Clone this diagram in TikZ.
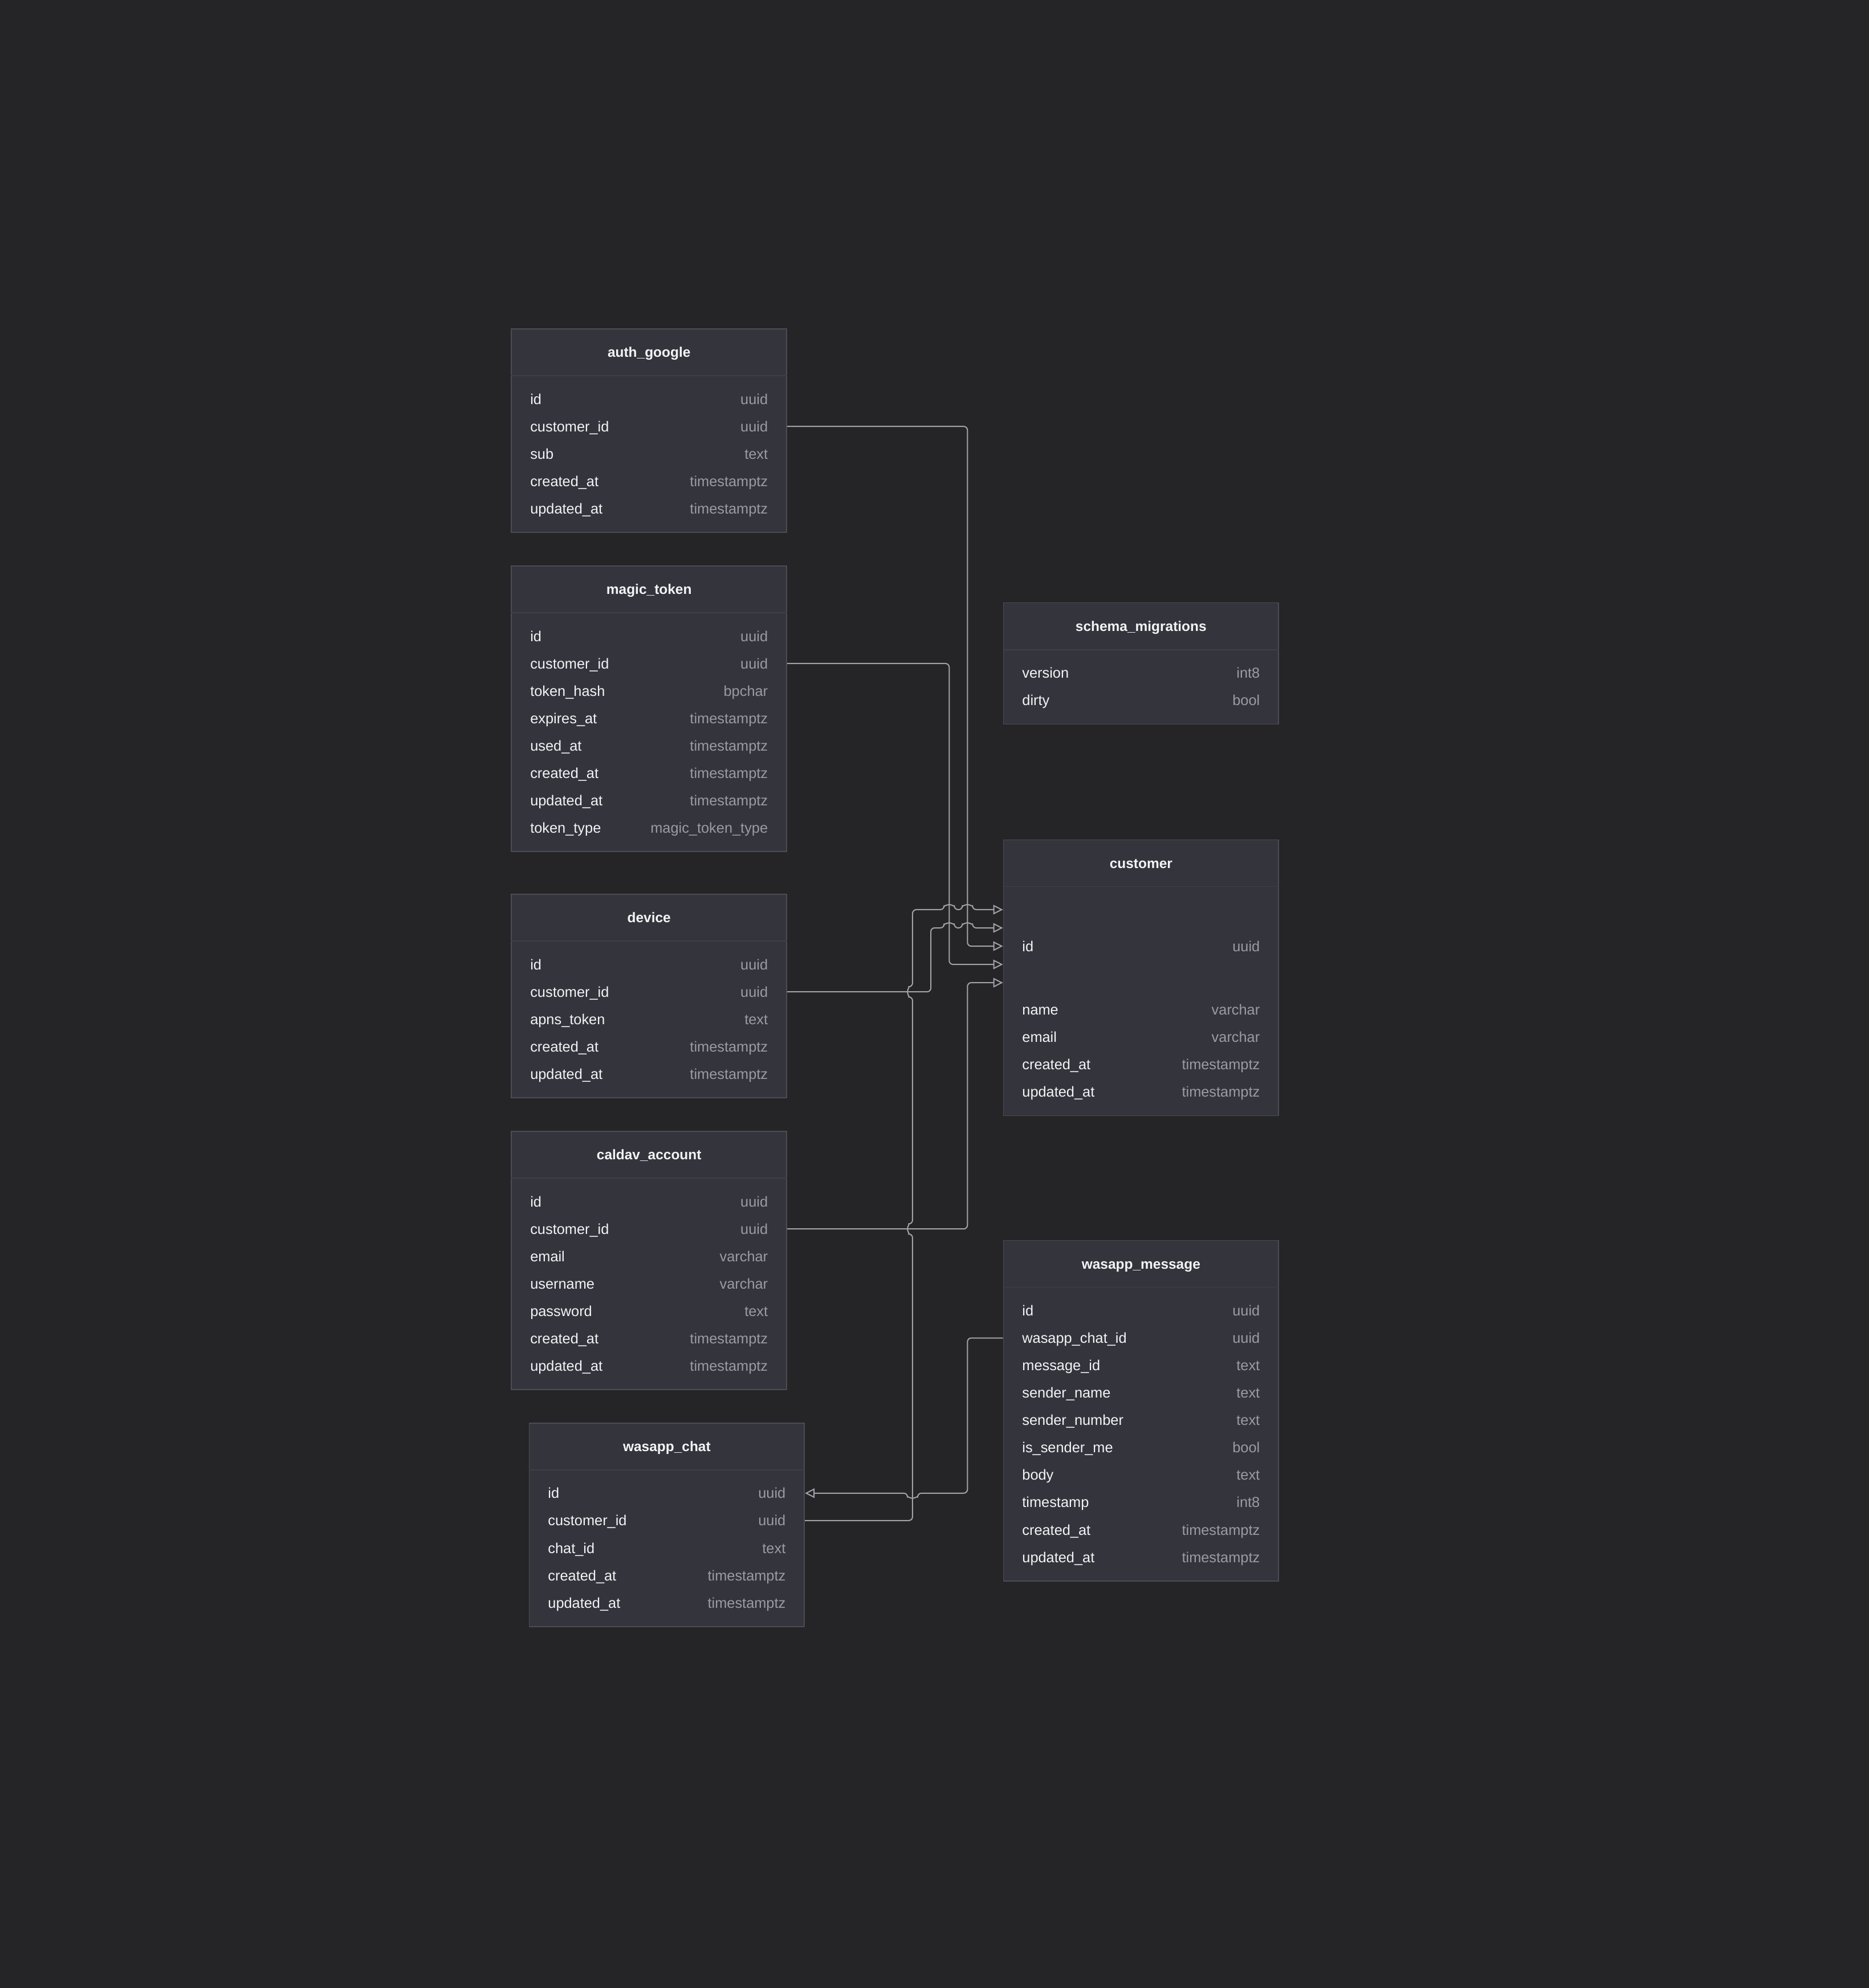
\documentclass[tikz,border=0pt]{standalone}
\usepackage{fontspec}
\setmainfont{Liberation Sans}
\usetikzlibrary{arrows.meta}
\definecolor{bgcol}{HTML}{252528}
\definecolor{tblfill}{HTML}{33343C}
\definecolor{tblline}{HTML}{4B4C54}
\definecolor{sepline}{HTML}{3E3F47}
\definecolor{fldtext}{HTML}{F4F4F6}
\definecolor{typtext}{HTML}{9B9BA5}
\definecolor{linkcol}{HTML}{A2A2A9}
\begin{document}
\begin{tikzpicture}[x=1pt, y=-1pt,
  tbl/.style={draw=tblline, fill=tblfill, line width=0.8pt, rectangle, anchor=north west, minimum width=217pt, inner sep=0pt},
  ttl/.style={font=\fontsize{11}{13}\selectfont\bfseries, text=fldtext, text height=8.2pt, text depth=0pt, inner sep=0pt},
  fld/.style={font=\fontsize{11.4}{13}\selectfont, text=fldtext, anchor=west, text height=8.2pt, text depth=0pt, inner sep=0pt},
  typ/.style={fld, text=typtext, anchor=east},
  sep/.style={draw=sepline, line width=0.8pt},
  link/.style={draw=linkcol, line width=0.9pt, rounded corners=3pt},
  fk/.style={link, -{Triangle[open, length=7.6pt, width=7.5pt]}}
]
\fill[bgcol] (0,0) rectangle (1474,1568);
\useasboundingbox (0,0) rectangle (1474,1568);

% auth_google
\node[tbl, minimum height=160.5pt] (ag) at (403,259) {};
\node[ttl] (ag-t) at ([yshift=-18.65pt]ag.north) {auth\_google};
\draw[sep] ([yshift=-37.3pt]ag.north west) -- ([yshift=-37.3pt]ag.north east);
\foreach \f/\t [count=\i] in {id/uuid, customer\_id/uuid, sub/text, created\_at/timestamptz, updated\_at/timestamptz} {
  \node[fld] (ag-\i) at ([xshift=15pt, yshift={-55.7-21.6*(\i-1)}]ag.north west) {\f};
  \node[typ] (ag-\i t) at ([xshift=-15pt, yshift={-55.7-21.6*(\i-1)}]ag.north east) {\t};
}

% magic_token
\node[tbl, minimum height=225.3pt] (mt) at (403,446) {};
\node[ttl] (mt-t) at ([yshift=-18.65pt]mt.north) {magic\_token};
\draw[sep] ([yshift=-37.3pt]mt.north west) -- ([yshift=-37.3pt]mt.north east);
\foreach \f/\t [count=\i] in {id/uuid, customer\_id/uuid, token\_hash/bpchar, expires\_at/timestamptz, used\_at/timestamptz, created\_at/timestamptz, updated\_at/timestamptz, token\_type/magic\_token\_type} {
  \node[fld] (mt-\i) at ([xshift=15pt, yshift={-55.7-21.6*(\i-1)}]mt.north west) {\f};
  \node[typ] (mt-\i t) at ([xshift=-15pt, yshift={-55.7-21.6*(\i-1)}]mt.north east) {\t};
}

% device
\node[tbl, minimum height=160.5pt] (dev) at (403,705) {};
\node[ttl] (dev-t) at ([yshift=-18.65pt]dev.north) {device};
\draw[sep] ([yshift=-37.3pt]dev.north west) -- ([yshift=-37.3pt]dev.north east);
\foreach \f/\t [count=\i] in {id/uuid, customer\_id/uuid, apns\_token/text, created\_at/timestamptz, updated\_at/timestamptz} {
  \node[fld] (dev-\i) at ([xshift=15pt, yshift={-55.7-21.6*(\i-1)}]dev.north west) {\f};
  \node[typ] (dev-\i t) at ([xshift=-15pt, yshift={-55.7-21.6*(\i-1)}]dev.north east) {\t};
}

% caldav_account
\node[tbl, minimum height=203.7pt] (cal) at (403,892) {};
\node[ttl] (cal-t) at ([yshift=-18.65pt]cal.north) {caldav\_account};
\draw[sep] ([yshift=-37.3pt]cal.north west) -- ([yshift=-37.3pt]cal.north east);
\foreach \f/\t [count=\i] in {id/uuid, customer\_id/uuid, email/varchar, username/varchar, password/text, created\_at/timestamptz, updated\_at/timestamptz} {
  \node[fld] (cal-\i) at ([xshift=15pt, yshift={-55.7-21.6*(\i-1)}]cal.north west) {\f};
  \node[typ] (cal-\i t) at ([xshift=-15pt, yshift={-55.7-21.6*(\i-1)}]cal.north east) {\t};
}

% wasapp_chat
\node[tbl, minimum height=160.5pt] (wch) at (417,1122) {};
\node[ttl] (wch-t) at ([yshift=-18.65pt]wch.north) {wasapp\_chat};
\draw[sep] ([yshift=-37.3pt]wch.north west) -- ([yshift=-37.3pt]wch.north east);
\foreach \f/\t [count=\i] in {id/uuid, customer\_id/uuid, chat\_id/text, created\_at/timestamptz, updated\_at/timestamptz} {
  \node[fld] (wch-\i) at ([xshift=15pt, yshift={-55.7-21.6*(\i-1)}]wch.north west) {\f};
  \node[typ] (wch-\i t) at ([xshift=-15pt, yshift={-55.7-21.6*(\i-1)}]wch.north east) {\t};
}

% schema_migrations
\node[tbl, minimum height=95.7pt] (sm) at (791,475) {};
\node[ttl] (sm-t) at ([yshift=-18.65pt]sm.north) {schema\_migrations};
\draw[sep] ([yshift=-37.3pt]sm.north west) -- ([yshift=-37.3pt]sm.north east);
\foreach \f/\t [count=\i] in {version/int8, dirty/bool} {
  \node[fld] (sm-\i) at ([xshift=15pt, yshift={-55.7-21.6*(\i-1)}]sm.north west) {\f};
  \node[typ] (sm-\i t) at ([xshift=-15pt, yshift={-55.7-21.6*(\i-1)}]sm.north east) {\t};
}

% customer
\node[tbl, minimum height=217.6pt] (cu) at (791,662) {};
\node[ttl] (cu-t) at ([yshift=-18.65pt]cu.north) {customer};
\draw[sep] ([yshift=-37.3pt]cu.north west) -- ([yshift=-37.3pt]cu.north east);
\node[fld] (cu-1) at ([xshift=15pt, yshift=-84.25pt]cu.north west) {id};
\node[typ] (cu-1t) at ([xshift=-15pt, yshift=-84.25pt]cu.north east) {uuid};
\foreach \f/\t [count=\i from 2] in {name/varchar, email/varchar, created\_at/timestamptz, updated\_at/timestamptz} {
  \node[fld] (cu-\i) at ([xshift=15pt, yshift={-134.4-21.6*(\i-2)}]cu.north west) {\f};
  \node[typ] (cu-\i t) at ([xshift=-15pt, yshift={-134.4-21.6*(\i-2)}]cu.north east) {\t};
}
\foreach \s [count=\k] in {a,b,c,d,e}
  \coordinate (cu-\s) at ([yshift={-84.25+14.4*(3-\k)}]cu.north west);

% wasapp_message
\node[tbl, minimum height=268.5pt] (wm) at (791,978) {};
\node[ttl] (wm-t) at ([yshift=-18.65pt]wm.north) {wasapp\_message};
\draw[sep] ([yshift=-37.3pt]wm.north west) -- ([yshift=-37.3pt]wm.north east);
\foreach \f/\t [count=\i] in {id/uuid, wasapp\_chat\_id/uuid, message\_id/text, sender\_name/text, sender\_number/text, is\_sender\_me/bool, body/text, timestamp/int8, created\_at/timestamptz, updated\_at/timestamptz} {
  \node[fld] (wm-\i) at ([xshift=15pt, yshift={-55.7-21.6*(\i-1)}]wm.north west) {\f};
  \node[typ] (wm-\i t) at ([xshift=-15pt, yshift={-55.7-21.6*(\i-1)}]wm.north east) {\t};
}

% lanes
\coordinate (l1) at (719.7,0);
\coordinate (l2) at (734.1,0);
\coordinate (l3) at (748.6,0);
\coordinate (l4) at (763,0);

\draw[fk] (ag.east |- ag-2) -- (l4 |- ag-2) -- (l4 |- cu-c) -- (cu-c);
\draw[fk] (mt.east |- mt-2) -- (l3 |- mt-2) -- (l3 |- cu-d) -- (cu-d);
\draw[fk] (dev.east |- dev-2) -- (l2 |- dev-2) -- (l2 |- cu-b)
  -- ([xshift=-4pt]l3 |- cu-b) arc[start angle=180, end angle=0, radius=4pt]
  -- ([xshift=-4pt]l4 |- cu-b) arc[start angle=180, end angle=0, radius=4pt] -- (cu-b);
\draw[fk] (cal.east |- cal-2) -- (l4 |- cal-2) -- (l4 |- cu-e) -- (cu-e);
\draw[fk] (wch.east |- wch-2) -- (l1 |- wch-2)
  -- ([yshift=-4pt]l1 |- cal-2) arc[start angle=270, end angle=90, radius=4pt]
  -- ([yshift=-4pt]l1 |- dev-2) arc[start angle=270, end angle=90, radius=4pt]
  -- (l1 |- cu-a)
  -- ([xshift=-4pt]l3 |- cu-a) arc[start angle=180, end angle=0, radius=4pt]
  -- ([xshift=-4pt]l4 |- cu-a) arc[start angle=180, end angle=0, radius=4pt] -- (cu-a);
\draw[fk] (wm.west |- wm-2) -- (l4 |- wm-2) -- (l4 |- wch-1)
  -- ([xshift=4pt]l1 |- wch-1) arc[start angle=0, end angle=-180, radius=4pt] -- (wch.east |- wch-1);
\end{tikzpicture}
\end{document}
